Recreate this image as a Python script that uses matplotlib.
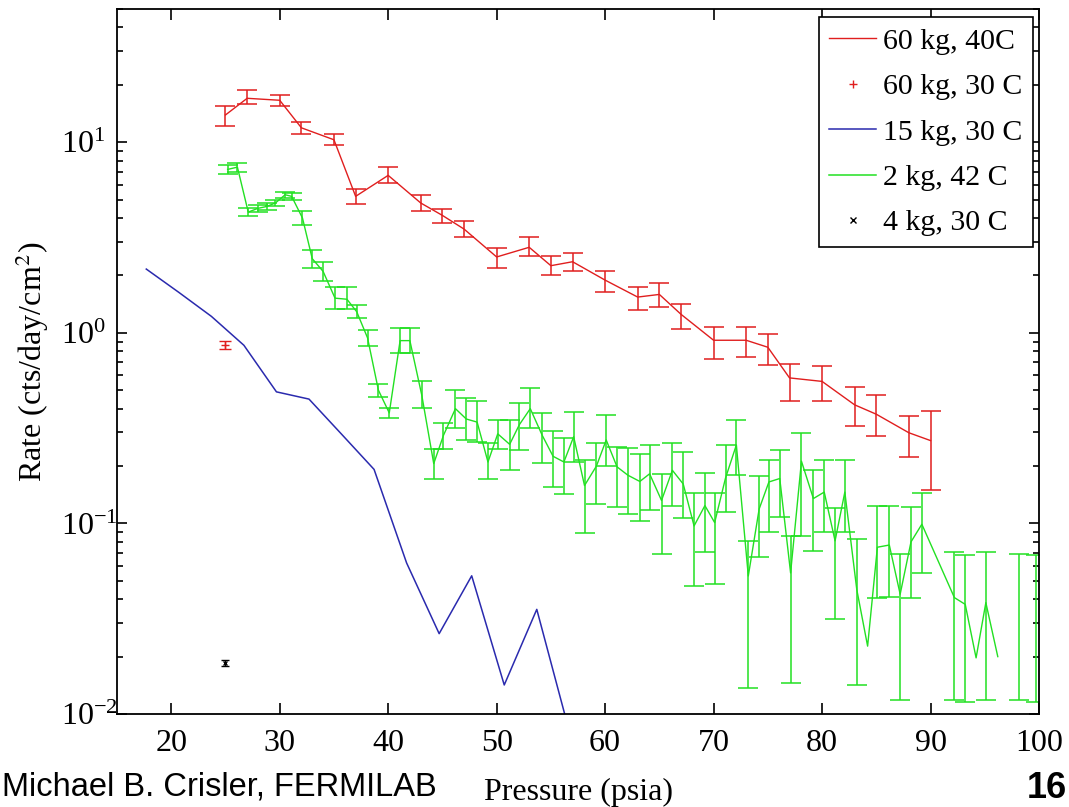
import numpy as np
import matplotlib.pyplot as plt
from matplotlib.lines import Line2D

plt.rcParams['font.family'] = ['Liberation Serif', 'DejaVu Serif']
plt.rcParams['mathtext.fontset'] = 'stix'

# 60 kg, 40C  (pressure in psia, rate with lower/upper error bar ends)
red_p = [25, 27, 30, 32, 35, 37, 40, 43, 45, 47, 50, 53, 55, 57, 60, 63, 65,
         67, 70, 73, 75, 77, 80, 83, 85, 88, 90]
red_rate = [13.9, 17.0, 16.6, 11.9, 10.3, 5.2, 6.7, 4.8, 4.13, 3.5, 2.5, 2.81,
            2.25, 2.36, 1.89, 1.54, 1.59, 1.25, 0.914, 0.914, 0.84, 0.58,
            0.556, 0.419, 0.374, 0.299, 0.272]
red_lo = [12.1, 15.9, 15.4, 11.1, 9.7, 4.72, 6.1, 4.35, 3.76, 3.2, 2.2, 2.54,
          2.01, 2.10, 1.63, 1.31, 1.36, 1.05, 0.73, 0.745, 0.68, 0.44,
          0.44, 0.324, 0.287, 0.223, 0.149]
red_hi = [15.5, 18.8, 17.6, 12.7, 11.0, 5.7, 7.4, 5.26, 4.48, 3.85, 2.77, 3.17,
          2.54, 2.62, 2.11, 1.73, 1.82, 1.42, 1.07, 1.07, 0.98, 0.69,
          0.667, 0.519, 0.469, 0.366, 0.391]

# 60 kg, 30 C
red2_p = [25]
red2_rate = [0.867]
red2_lo = [0.824]
red2_hi = [0.911]

# 15 kg, 30 C
blue_p = [17.7, 20.7, 23.7, 26.7, 29.7, 32.7, 35.7, 38.7, 41.7, 44.7, 47.7,
          50.7, 53.7, 56.7]
blue_rate = [2.16, 1.63, 1.22, 0.86, 0.49, 0.449, 0.294, 0.192, 0.062, 0.0264,
             0.0531, 0.0142, 0.0354, 0.0081]

# 2 kg, 42 C  (lo == hi means no error bar drawn)
green_p = [25.2, 26.1, 27.1, 28.0, 28.8, 29.6, 30.5, 31.1, 32.1, 33.0, 34.0,
           35.1, 36.2, 37.1, 38.1, 39.1, 40.1, 41.1, 42.0, 43.1, 44.2, 45.1,
           46.2, 47.2, 48.2, 49.2, 50.1, 51.2, 52.1, 53.1, 54.2, 55.2, 56.2,
           57.1, 58.1, 59.2, 60.1, 61.1, 62.1, 63.2, 64.1, 65.2, 66.2, 67.2,
           68.2, 69.2, 70.1, 71.1, 72.1, 73.2, 74.2, 75.1, 76.1, 77.1, 78.1,
           79.2, 80.2, 81.2, 82.1, 83.2, 84.2, 85.1, 86.2, 87.2, 88.2, 89.2,
           92.2, 93.2, 94.2, 95.1, 96.2]
green_rate = [7.2, 7.4, 4.3, 4.5, 4.6, 4.8, 5.3, 5.2, 4.0, 2.45, 2.1,
              1.52, 1.5, 1.29, 0.94, 0.5, 0.38, 0.91, 0.91, 0.47, 0.206, 0.29,
              0.4, 0.353, 0.34, 0.21, 0.295, 0.26, 0.33, 0.4, 0.29, 0.225, 0.21,
              0.285, 0.158, 0.2, 0.274, 0.198, 0.179, 0.166, 0.182, 0.132, 0.19,
              0.161, 0.097, 0.124, 0.101, 0.173, 0.258, 0.053, 0.119, 0.165,
              0.172, 0.055, 0.212, 0.135, 0.146, 0.081, 0.146, 0.045, 0.0227,
              0.075, 0.077, 0.0425, 0.080, 0.099, 0.0408, 0.0376, 0.0197,
              0.0384, 0.020]
green_lo = [6.8, 7.0, 4.1, 4.3, 4.4, 4.6, 5.1, 5.0, 3.7, 2.2, 1.87,
            1.33, 1.33, 1.19, 0.851, 0.458, 0.356, 0.785, 0.785, 0.402, 0.172,
            0.247, 0.318, 0.274, 0.268, 0.172, 0.247, 0.19, 0.242, 0.315,
            0.208, 0.155, 0.142, 0.21, 0.089, 0.127, 0.2, 0.1216, 0.112,
            0.1035, 0.117, 0.069, 0.124, 0.1064, 0.047, 0.0705, 0.048, 0.1146,
            0.179, 0.0137, 0.067, 0.0905, 0.108, 0.0146, 0.0862, 0.0719,
            0.0899, 0.0316, 0.0899, 0.0142, 0.0227, 0.0408, 0.041, 0.0119,
            0.0408, 0.0548, 0.0118, 0.0116, 0.0197, 0.0119, 0.020]
green_hi = [7.6, 7.8, 4.5, 4.7, 4.8, 5.0, 5.5, 5.4, 4.35, 2.73, 2.34,
            1.73, 1.73, 1.40, 1.033, 0.54, 0.405, 1.062, 1.062, 0.556, 0.247,
            0.338, 0.502, 0.454, 0.439, 0.263, 0.349, 0.349, 0.427, 0.513,
            0.378, 0.305, 0.282, 0.386, 0.216, 0.263, 0.371, 0.252, 0.25,
            0.23, 0.257, 0.182, 0.263, 0.2375, 0.145, 0.1847, 0.145, 0.257,
            0.349, 0.0805, 0.177, 0.214, 0.242, 0.0855, 0.2965, 0.19, 0.214,
            0.12, 0.214, 0.0828, 0.0227, 0.124, 0.124, 0.069, 0.1216, 0.145,
            0.0705, 0.068, 0.0197, 0.0705, 0.020]
# two bars at the high end that are not joined by the line
green_extra_p = [98.2, 99.7]
green_extra_rate = [0.038, 0.038]
green_extra_lo = [0.0119, 0.0116]
green_extra_hi = [0.069, 0.068]

# 4 kg, 30 C
black_p = [25]
black_rate = [0.0185]
black_lo = [0.0178]
black_hi = [0.0193]

RED = '#e01e1e'
BLUE = '#2a2aae'
GREEN = '#22e022'


def bars(p, rate, lo, hi):
    p, rate, lo, hi = map(np.array, (p, rate, lo, hi))
    keep = hi > lo
    return p[keep], rate[keep], [rate[keep] - lo[keep], hi[keep] - rate[keep]]


fig = plt.figure(figsize=(10.69, 8.07), dpi=100)
ax = fig.add_axes([117 / 1069, 1 - 714 / 807, 922 / 1069, 705 / 807])

eb = dict(fmt='none', elinewidth=1.1, capsize=7, capthick=1.1)

ax.plot(red_p, red_rate, color=RED, lw=1)
bx, by, be = bars(red_p, red_rate, red_lo, red_hi)
ax.errorbar(bx, by, yerr=be, ecolor=RED, **eb)

ax.plot(red2_p, red2_rate, '+', color=RED, ms=6)
bx, by, be = bars(red2_p, red2_rate, red2_lo, red2_hi)
ax.errorbar(bx, by, yerr=be, ecolor=RED, fmt='none', elinewidth=1,
            capsize=4, capthick=1)

ax.plot(blue_p, blue_rate, color=BLUE, lw=1.1)

ax.plot(green_p, green_rate, color=GREEN, lw=1)
bx, by, be = bars(green_p, green_rate, green_lo, green_hi)
ax.errorbar(bx, by, yerr=be, ecolor=GREEN, **eb)
bx, by, be = bars(green_extra_p, green_extra_rate, green_extra_lo, green_extra_hi)
ax.errorbar(bx, by, yerr=be, ecolor=GREEN, **eb)

ax.plot(black_p, black_rate, 'x', color='black', ms=3)
bx, by, be = bars(black_p, black_rate, black_lo, black_hi)
ax.errorbar(bx, by, yerr=be, ecolor='black', fmt='none', elinewidth=1,
            capsize=3, capthick=1)

ax.set_yscale('log')
ax.set_xlim(15, 100)
ax.set_ylim(0.01, 50)
ax.set_xticks(range(20, 101, 10))

ax.tick_params(which='both', direction='in', top=True, right=True,
               width=1.2, labelsize=23)
ax.tick_params(axis='x', which='major', length=8, pad=11)
ax.tick_params(axis='y', which='major', length=7, pad=40)
ax.tick_params(axis='y', which='minor', length=4)
for lab in ax.get_yticklabels():
    lab.set_horizontalalignment('left')
for sp in ax.spines.values():
    sp.set_linewidth(1.3)

ax.set_xlabel('Pressure (psia)', fontsize=23)
ax.xaxis.set_label_coords(0.5, -0.09)
ax.set_ylabel('Rate (cts/day/cm$^2$)', fontsize=23)
ax.yaxis.set_label_coords(-0.072, 0.5)

handles = [
    Line2D([], [], color=RED, lw=1),
    Line2D([], [], color=RED, ls='none', marker='+', ms=6),
    Line2D([], [], color=BLUE, lw=1.1),
    Line2D([], [], color=GREEN, lw=1.1),
    Line2D([], [], color='black', ls='none', marker='x', ms=4),
]
labels = ['60 kg, 40C', '60 kg, 30 C', '15 kg, 30 C', '2 kg, 42 C', '4 kg, 30 C']
leg = ax.legend(handles, labels, loc='upper right',
                bbox_to_anchor=(0.9935, 0.988), borderaxespad=0,
                fontsize=21.5, fancybox=False, edgecolor='black',
                framealpha=1, handlelength=1.55, handletextpad=0.25,
                labelspacing=0.62, borderpad=0.35)
leg.get_frame().set_linewidth(1.2)

fig.text(0.002, 1 - 787 / 807, 'Michael B. Crisler, FERMILAB', fontsize=23.5,
         family='Liberation Sans', va='center', ha='left')
fig.text(0.998, 1 - 788 / 807, '16', fontsize=26, fontweight='bold',
         family='Liberation Sans', va='center', ha='right')

fig.savefig('out.png', dpi=100)
